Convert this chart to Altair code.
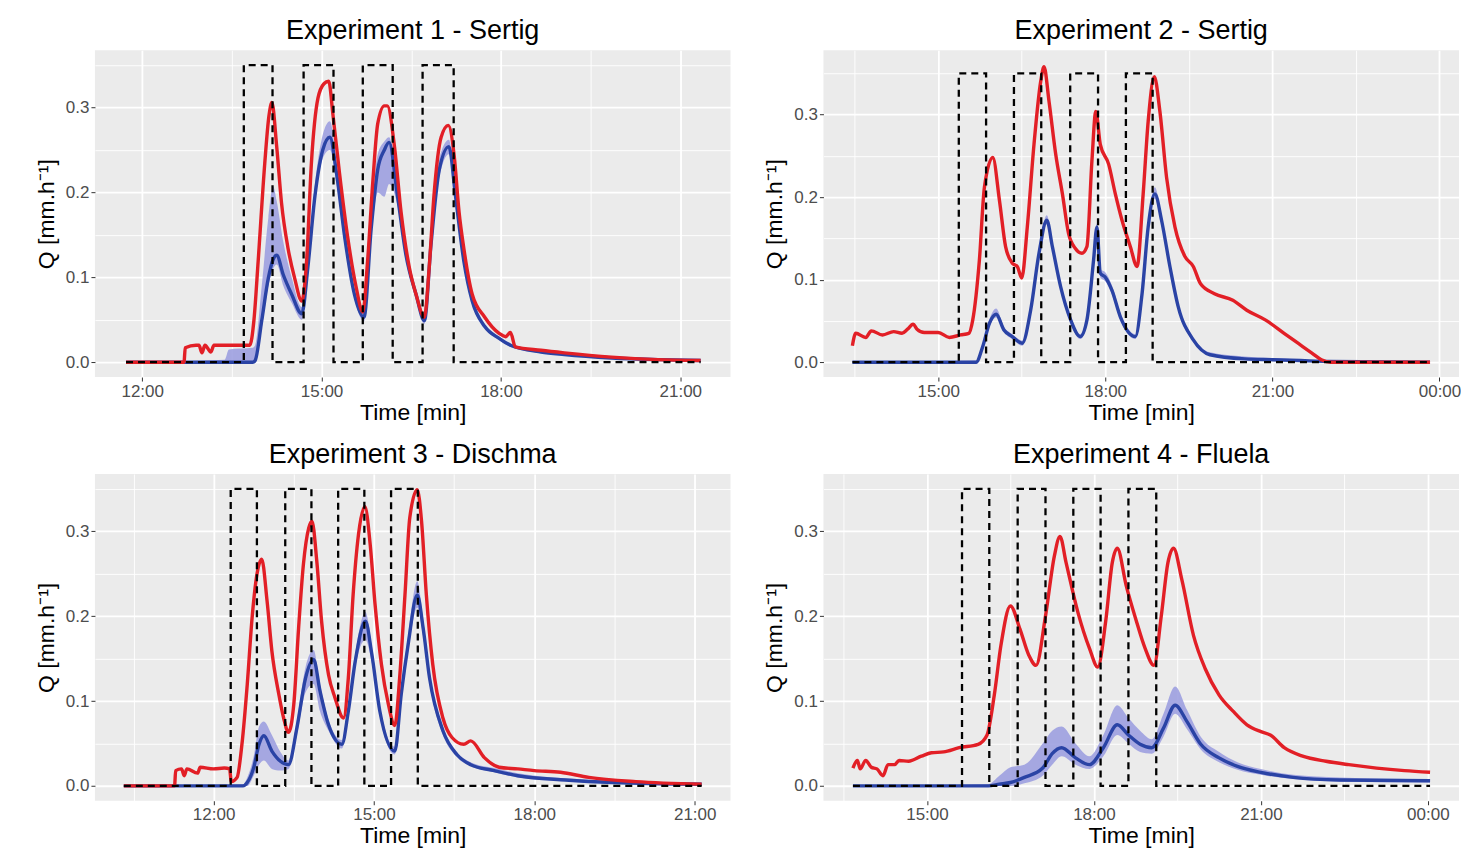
import altair as alt
import pandas as pd

FONT = "Liberation Sans, Arial, Helvetica, sans-serif"
RAIN_TOP = 0.35

# ---------------- Experiment 1 - Sertig ----------------
# observed discharge (time in hours, Q)
e1_red = [(11.73, 0.0), (12.70, 0.0), (12.72, 0.017), (12.90, 0.020), (12.95, 0.020), (13.00, 0.011), (13.05, 0.020),
          (13.15, 0.012), (13.20, 0.020), (13.50, 0.020), (13.80, 0.020), (13.87, 0.050), (13.94, 0.119),
          (14.05, 0.234), (14.12, 0.290), (14.17, 0.306), (14.25, 0.254), (14.33, 0.188), (14.44, 0.134),
          (14.55, 0.099), (14.67, 0.072), (14.75, 0.119), (14.83, 0.234), (14.94, 0.311), (15.04, 0.328),
          (15.12, 0.331), (15.19, 0.292), (15.30, 0.223), (15.44, 0.146), (15.58, 0.088), (15.69, 0.059),
          (15.77, 0.119), (15.86, 0.215), (15.94, 0.281), (16.05, 0.302), (16.10, 0.302), (16.22, 0.254),
          (16.33, 0.177), (16.47, 0.111), (16.58, 0.080), (16.72, 0.053), (16.80, 0.111), (16.88, 0.196),
          (17.00, 0.265), (17.12, 0.279), (17.22, 0.242), (17.30, 0.177), (17.38, 0.134), (17.52, 0.080),
          (17.73, 0.053), (17.97, 0.034), (18.08, 0.030), (18.16, 0.035), (18.24, 0.018), (18.67, 0.014),
          (19.06, 0.011), (19.85, 0.006), (20.63, 0.003), (21.34, 0.002)]
# simulated discharge: (time, Q, band low, band high)
e1_blue = [(11.73, 0.0, 0.0, 0.0), (13.38, 0.0, 0.0, 0.003), (13.45, 0.0, 0.0, 0.015), (13.85, 0.0, 0.0, 0.017),
           (13.89, 0.002, 0.0, 0.020), (14.00, 0.049, 0.040, 0.090), (14.11, 0.099, 0.090, 0.170),
           (14.19, 0.121, 0.110, 0.207), (14.25, 0.126, 0.115, 0.190), (14.36, 0.103, 0.090, 0.142),
           (14.50, 0.080, 0.070, 0.100), (14.67, 0.057, 0.050, 0.065), (14.77, 0.111, 0.100, 0.120),
           (14.89, 0.196, 0.185, 0.210), (15.02, 0.250, 0.240, 0.268), (15.14, 0.265, 0.250, 0.284),
           (15.25, 0.223, 0.210, 0.235), (15.39, 0.146, 0.138, 0.155), (15.55, 0.080, 0.075, 0.086),
           (15.71, 0.053, 0.048, 0.058), (15.83, 0.157, 0.145, 0.170), (15.94, 0.227, 0.200, 0.245),
           (16.05, 0.250, 0.195, 0.260), (16.13, 0.259, 0.210, 0.265), (16.27, 0.196, 0.185, 0.205),
           (16.41, 0.127, 0.120, 0.134), (16.58, 0.080, 0.075, 0.085), (16.72, 0.049, 0.045, 0.053),
           (16.83, 0.138, 0.130, 0.146), (16.97, 0.227, 0.218, 0.240), (17.13, 0.254, 0.245, 0.262),
           (17.24, 0.196, 0.188, 0.205), (17.38, 0.119, 0.113, 0.125), (17.52, 0.072, 0.068, 0.076),
           (17.73, 0.042, 0.040, 0.045), (17.97, 0.028, 0.026, 0.030), (18.16, 0.020, 0.018, 0.022),
           (18.67, 0.012, 0.011, 0.014), (19.06, 0.009, 0.008, 0.011), (19.85, 0.005, 0.004, 0.007),
           (20.63, 0.003, 0.002, 0.005), (21.34, 0.002, 0.001, 0.004)]
e1_rain_start = [13.70, 14.70, 15.69, 16.69]
e1_rain_end = [14.18, 15.20, 16.19, 17.21]

# ---------------- Experiment 2 - Sertig ----------------
e2_red = [(13.46, 0.020), (13.52, 0.035), (13.70, 0.030), (13.80, 0.038), (14.00, 0.033), (14.20, 0.037),
          (14.35, 0.035), (14.45, 0.040), (14.55, 0.046), (14.62, 0.040), (14.75, 0.036), (15.00, 0.036),
          (15.20, 0.030), (15.40, 0.033), (15.55, 0.035), (15.62, 0.051), (15.74, 0.124), (15.83, 0.212),
          (15.98, 0.248), (16.10, 0.196), (16.21, 0.140), (16.33, 0.120), (16.42, 0.116), (16.50, 0.102),
          (16.60, 0.164), (16.72, 0.264), (16.84, 0.340), (16.90, 0.358), (16.99, 0.316), (17.11, 0.252),
          (17.23, 0.204), (17.34, 0.156), (17.46, 0.138), (17.58, 0.132), (17.67, 0.140), (17.76, 0.244),
          (17.83, 0.304), (17.91, 0.264), (18.06, 0.240), (18.18, 0.204), (18.30, 0.172), (18.45, 0.140),
          (18.57, 0.116), (18.68, 0.204), (18.77, 0.292), (18.88, 0.346), (18.98, 0.304), (19.10, 0.224),
          (19.25, 0.164), (19.43, 0.128), (19.58, 0.116), (19.71, 0.095), (19.96, 0.083), (20.29, 0.075),
          (20.54, 0.063), (20.88, 0.051), (21.21, 0.035), (21.46, 0.023), (21.71, 0.011), (21.88, 0.003),
          (22.05, 0.0), (23.83, 0.0)]
e2_blue = [(13.46, 0.0, 0.0, 0.0), (15.68, 0.0, 0.0, 0.002), (15.80, 0.019, 0.016, 0.023),
           (15.92, 0.047, 0.043, 0.052), (16.04, 0.058, 0.054, 0.065), (16.18, 0.039, 0.036, 0.043),
           (16.33, 0.031, 0.028, 0.034), (16.51, 0.023, 0.020, 0.026), (16.66, 0.063, 0.059, 0.067),
           (16.81, 0.132, 0.127, 0.137), (16.95, 0.172, 0.167, 0.178), (17.05, 0.140, 0.135, 0.145),
           (17.20, 0.091, 0.087, 0.096), (17.38, 0.051, 0.047, 0.055), (17.55, 0.031, 0.028, 0.034),
           (17.67, 0.051, 0.047, 0.055), (17.79, 0.124, 0.119, 0.129), (17.85, 0.164, 0.158, 0.168),
           (17.91, 0.108, 0.103, 0.113), (18.00, 0.103, 0.098, 0.109), (18.12, 0.087, 0.082, 0.093),
           (18.27, 0.055, 0.051, 0.060), (18.54, 0.031, 0.028, 0.034), (18.66, 0.083, 0.079, 0.087),
           (18.77, 0.164, 0.159, 0.170), (18.89, 0.204, 0.198, 0.212), (19.01, 0.172, 0.167, 0.177),
           (19.16, 0.116, 0.111, 0.121), (19.31, 0.067, 0.063, 0.071), (19.58, 0.027, 0.025, 0.030),
           (19.88, 0.009, 0.008, 0.012), (20.50, 0.004, 0.003, 0.007), (21.00, 0.003, 0.002, 0.005),
           (21.50, 0.002, 0.001, 0.003), (22.00, 0.001, 0.0, 0.001), (23.83, 0.0, 0.0, 0.0)]
e2_rain_start = [15.37, 16.36, 17.37, 18.37]
e2_rain_end = [15.86, 16.85, 17.87, 18.85]

# ---------------- Experiment 3 - Dischma ----------------
e3_red = [(10.32, 0.0), (11.27, 0.0), (11.29, 0.018), (11.40, 0.020), (11.45, 0.012), (11.50, 0.020),
          (11.70, 0.015), (11.75, 0.022), (12.00, 0.020), (12.20, 0.021), (12.30, 0.020), (12.33, 0.005),
          (12.44, 0.010), (12.53, 0.049), (12.63, 0.120), (12.72, 0.198), (12.81, 0.249), (12.90, 0.267),
          (13.00, 0.218), (13.09, 0.159), (13.22, 0.108), (13.31, 0.080), (13.40, 0.063), (13.50, 0.096),
          (13.59, 0.186), (13.68, 0.261), (13.78, 0.304), (13.84, 0.312), (13.93, 0.265), (14.02, 0.194),
          (14.15, 0.131), (14.27, 0.104), (14.43, 0.080), (14.52, 0.127), (14.61, 0.225), (14.71, 0.296),
          (14.83, 0.329), (14.93, 0.284), (15.02, 0.214), (15.14, 0.143), (15.27, 0.096), (15.39, 0.071),
          (15.48, 0.127), (15.58, 0.225), (15.67, 0.316), (15.81, 0.349), (15.89, 0.312), (15.98, 0.225),
          (16.10, 0.143), (16.29, 0.080), (16.46, 0.057), (16.68, 0.049), (16.81, 0.053), (17.07, 0.033),
          (17.34, 0.022), (17.69, 0.020), (18.00, 0.018), (18.49, 0.016), (19.02, 0.010), (19.90, 0.005),
          (21.13, 0.002)]
e3_blue = [(10.32, 0.0, 0.0, 0.0), (12.55, 0.0, 0.0, 0.002), (12.63, 0.004, 0.0, 0.010),
           (12.75, 0.0215, 0.012, 0.035), (12.85, 0.049, 0.025, 0.070), (12.94, 0.059, 0.030, 0.076),
           (13.09, 0.041, 0.020, 0.060), (13.25, 0.029, 0.018, 0.040), (13.40, 0.025, 0.020, 0.030),
           (13.56, 0.069, 0.060, 0.078), (13.72, 0.127, 0.110, 0.140), (13.87, 0.149, 0.120, 0.160),
           (13.99, 0.112, 0.088, 0.120), (14.15, 0.072, 0.065, 0.078), (14.40, 0.049, 0.044, 0.054),
           (14.52, 0.088, 0.082, 0.094), (14.65, 0.147, 0.140, 0.156), (14.84, 0.194, 0.172, 0.205),
           (14.96, 0.155, 0.145, 0.165), (15.11, 0.088, 0.082, 0.094), (15.39, 0.041, 0.037, 0.046),
           (15.51, 0.108, 0.100, 0.115), (15.64, 0.167, 0.158, 0.178), (15.81, 0.225, 0.210, 0.241),
           (15.92, 0.186, 0.176, 0.196), (16.04, 0.127, 0.120, 0.134), (16.29, 0.065, 0.060, 0.070),
           (16.55, 0.037, 0.034, 0.040), (16.81, 0.025, 0.023, 0.028), (17.25, 0.018, 0.016, 0.021),
           (17.69, 0.012, 0.010, 0.015), (18.58, 0.007, 0.006, 0.009), (19.47, 0.004, 0.003, 0.006),
           (21.13, 0.002, 0.001, 0.004)]
e3_rain_start = [12.32, 13.34, 14.33, 15.32]
e3_rain_end = [12.81, 13.83, 14.82, 15.82]

# ---------------- Experiment 4 - Fluela ----------------
e4_red = [(13.67, 0.021), (13.75, 0.030), (13.80, 0.020), (13.90, 0.030), (14.00, 0.022), (14.10, 0.020),
          (14.21, 0.012), (14.30, 0.025), (14.42, 0.025), (14.50, 0.030), (14.67, 0.029), (14.90, 0.035),
          (15.08, 0.039), (15.30, 0.040), (15.58, 0.045), (15.92, 0.049), (16.08, 0.060), (16.21, 0.107),
          (16.33, 0.166), (16.50, 0.212), (16.67, 0.185), (16.83, 0.154), (16.96, 0.142), (17.13, 0.200),
          (17.29, 0.271), (17.39, 0.294), (17.50, 0.263), (17.71, 0.205), (17.92, 0.162), (18.07, 0.140),
          (18.21, 0.193), (18.33, 0.263), (18.42, 0.280), (18.58, 0.236), (18.75, 0.197), (18.92, 0.162),
          (19.08, 0.142), (19.21, 0.200), (19.33, 0.263), (19.43, 0.280), (19.58, 0.243), (19.79, 0.177),
          (20.00, 0.138), (20.25, 0.107), (20.50, 0.088), (20.75, 0.072), (21.00, 0.064), (21.17, 0.060),
          (21.42, 0.045), (21.75, 0.035), (22.17, 0.029), (22.58, 0.025), (23.08, 0.021), (23.58, 0.018),
          (24.04, 0.016)]
e4_blue = [(13.67, 0.0, 0.0, 0.0), (16.10, 0.0, 0.0, 0.002), (16.30, 0.002, 0.0, 0.012), (16.50, 0.004, 0.0, 0.022),
           (16.75, 0.010, 0.003, 0.025), (17.08, 0.021, 0.012, 0.050), (17.25, 0.038, 0.025, 0.065),
           (17.42, 0.045, 0.035, 0.070), (17.67, 0.033, 0.025, 0.050), (17.92, 0.025, 0.020, 0.035),
           (18.17, 0.045, 0.035, 0.060), (18.42, 0.072, 0.060, 0.095), (18.62, 0.060, 0.050, 0.080),
           (18.83, 0.049, 0.040, 0.065), (19.04, 0.045, 0.038, 0.055), (19.25, 0.068, 0.058, 0.085),
           (19.46, 0.095, 0.085, 0.117), (19.67, 0.076, 0.067, 0.090), (19.92, 0.049, 0.043, 0.058),
           (20.25, 0.033, 0.028, 0.040), (20.58, 0.023, 0.019, 0.028), (21.00, 0.016, 0.013, 0.020),
           (21.58, 0.010, 0.008, 0.013), (22.42, 0.007, 0.005, 0.010), (24.04, 0.006, 0.004, 0.008)]
e4_rain_start = [15.63, 16.63, 17.63, 18.62]
e4_rain_end = [16.12, 17.13, 18.12, 19.12]

# axis tick values (major every 3 h, minor in between)
e1_xticks = [12, 13.5, 15, 16.5, 18, 19.5, 21]
e2_xticks = [13.5, 15, 16.5, 18, 19.5, 21, 22.5, 24]
e3_xticks = [10.5, 12, 13.5, 15, 16.5, 18, 19.5, 21]
e4_xticks = [13.5, 15, 16.5, 18, 19.5, 21, 22.5, 24]
y_ticks = [0, 0.05, 0.1, 0.15, 0.2, 0.25, 0.3, 0.35]

RED = "#E21F26"
BLUE = "#2A43A5"
BAND = "#9DA0E0"

X_MAJOR = "datum.value % 3 == 0"
Y_MAJOR = "round(datum.value * 20) % 2 == 0"
Y_TITLE = "Q [mm.h⁻¹]"


def x_axis(vals):
    return alt.Axis(
        values=vals,
        labelExpr=("datum.value % 3 == 0 ? ((datum.value % 24 < 10 ? '0' : '') + (datum.value % 24) + ':00') : ''"),
        grid=True,
        gridColor="white",
        gridWidth={"condition": {"test": X_MAJOR, "value": 1.8}, "value": 0.9},
        tickOpacity={"condition": {"test": X_MAJOR, "value": 1}, "value": 0},
        domain=False,
        labelFlush=False,
        labelOverlap=False,
    )


def y_axis():
    return alt.Axis(
        values=y_ticks,
        labelExpr="round(datum.value * 20) % 2 == 0 ? format(datum.value, '.1f') : ''",
        grid=True,
        gridColor="white",
        gridWidth={"condition": {"test": Y_MAJOR, "value": 1.8}, "value": 0.9},
        tickOpacity={"condition": {"test": Y_MAJOR, "value": 1}, "value": 0},
        domain=False,
        labelOverlap=False,
    )


def panel(title, red_pts, blue_pts, rs, re_, xdom, ydom, xticks):
    red = pd.DataFrame(red_pts, columns=["t", "q"])
    blue = pd.DataFrame(blue_pts, columns=["t", "q", "lo", "hi"])
    rt = [red_pts[0][0]]
    rq = [0.0]
    for s, e in zip(rs, re_):
        rt += [s, s, e, e]
        rq += [0.0, RAIN_TOP, RAIN_TOP, 0.0]
    rt.append(red_pts[-1][0])
    rq.append(0.0)
    rain = pd.DataFrame({"t": rt, "q": rq, "i": list(range(len(rt)))})

    xs = alt.Scale(domain=xdom, nice=False, zero=False)
    ys = alt.Scale(domain=ydom, nice=False, zero=False)
    xenc = alt.X("t:Q", scale=xs, axis=x_axis(xticks), title="Time [min]")
    yq = alt.Y("q:Q", scale=ys, axis=y_axis(), title=Y_TITLE)

    band = alt.Chart(blue).mark_area(color=BAND, opacity=0.9, interpolate="monotone").encode(
        x=xenc, y=alt.Y("lo:Q", scale=ys, axis=y_axis(), title=Y_TITLE), y2="hi:Q")
    bline = alt.Chart(blue).mark_line(color=BLUE, strokeWidth=3.4, interpolate="monotone").encode(x=xenc, y=yq)
    rline = alt.Chart(red).mark_line(color=RED, strokeWidth=3.4, interpolate="monotone").encode(x=xenc, y=yq)
    rain_l = alt.Chart(rain).mark_line(color="black", strokeWidth=2.3, strokeDash=[7, 5]).encode(
        x=xenc, y=yq, order="i:Q")

    return alt.layer(band, bline, rline, rain_l).properties(
        width=636, height=327,
        title=alt.TitleParams(title, fontSize=27, font=FONT, fontWeight="normal", color="black",
                              anchor="middle", offset=5),
    )


p1 = panel("Experiment 1 - Sertig", e1_red, e1_blue, e1_rain_start, e1_rain_end,
           [11.21, 21.84], [-0.0175, 0.3675], e1_xticks)
p2 = panel("Experiment 2 - Sertig", e2_red, e2_blue, e2_rain_start, e2_rain_end,
           [12.94, 24.35], [-0.018, 0.378], e2_xticks)
p3 = panel("Experiment 3 - Dischma", e3_red, e3_blue, e3_rain_start, e3_rain_end,
           [9.78, 21.67], [-0.0175, 0.3675], e3_xticks)
p4 = panel("Experiment 4 - Fluela", e4_red, e4_blue, e4_rain_start, e4_rain_end,
           [13.14, 24.56], [-0.0175, 0.3675], e4_xticks)

chart = alt.vconcat(
    alt.hconcat(p1, p2, spacing=33),
    alt.hconcat(p3, p4, spacing=33),
    spacing=17,
).properties(
    padding={"left": 27, "top": 9, "right": 0, "bottom": 0},
).configure_view(
    fill="#EBEBEB", stroke=None,
).configure_axis(
    labelFont=FONT, titleFont=FONT, labelFontSize=17, labelColor="#4D4D4D",
    titleFontSize=23, titleFontWeight="normal", titleColor="black",
    tickColor="#333333", tickSize=4, labelPadding=2,
).configure_axisX(titlePadding=2).configure_axisY(titlePadding=7)

chart.save("out.html", embed_options={"renderer": "svg", "actions": False})
